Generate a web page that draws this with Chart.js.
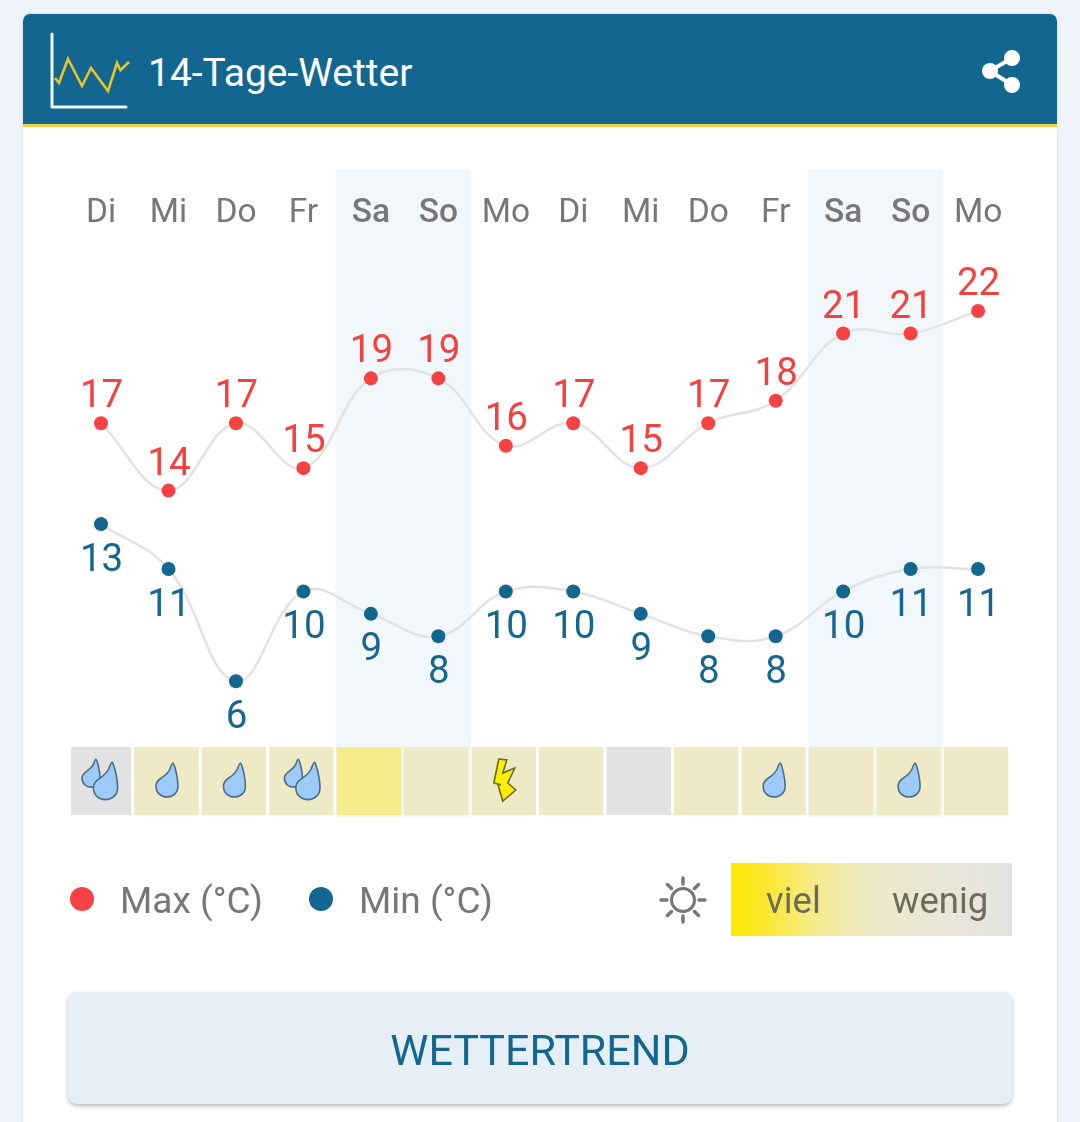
<!DOCTYPE html>
<html lang="de">
<head>
<meta charset="utf-8">
<title>14-Tage-Wetter</title>
<script src="https://cdn.jsdelivr.net/npm/chart.js@4"></script>
<style>
html,body{margin:0;padding:0;width:1080px;height:1122px;overflow:hidden;background:#eff5fa;font-family:Roboto,sans-serif}
#card{position:absolute;left:23px;top:14px;width:1034px;height:1120px;background:#fff;border-radius:7px;box-shadow:0 0 4px rgba(0,0,0,.12)}
#head{position:absolute;left:23px;top:14px;width:1034px;height:110px;background:#12668f;border-radius:7px 7px 0 0;border-bottom:3px solid #efd046}
#title{position:absolute;left:148px;top:50px;font-size:39px;line-height:46px;color:#fff;white-space:nowrap}
svg{position:absolute;left:0;top:0}
canvas{position:absolute;left:0;top:0}
.lg{position:absolute;font-size:37px;line-height:46px;color:#777;white-space:nowrap}
.dot{position:absolute;width:24px;height:24px;border-radius:50%}
#grad{position:absolute;left:731px;top:863px;width:281px;height:73px;background:linear-gradient(90deg,#fde800 0%,#fae838 14%,#f5ea8c 30%,#efeac4 48%,#ebe8d0 62%,#e3e3e3 100%)}
.g{position:absolute;font-size:36.500px;line-height:44px;color:#6c6c58;white-space:nowrap}
#btn{position:absolute;left:68px;top:992px;width:944px;height:112px;background:#e6eff5;border-radius:9px;box-shadow:0 2px 4px rgba(0,0,0,.28);color:#12668f;font-size:43px;line-height:116px;text-align:center;white-space:nowrap}
</style>
</head>
<body>
<div id="card"></div>
<div id="head"></div>
<div id="title">14-Tage-Wetter</div>
<svg width="1080" height="130" fill="none">
<path d="M52 34V107H126" stroke="#eef5f8" stroke-width="3" stroke-linecap="round" stroke-linejoin="round"/>
<path d="M55 78L59 83L68 59L82 86L91 68L108 91L117 63L120.500 70L129 62" stroke="#e8c52a" stroke-width="2.600"/>
<g fill="#fff"><circle cx="1012" cy="58" r="8"/><circle cx="990" cy="71" r="8"/><circle cx="1012" cy="85" r="8"/></g>
<path d="M1012 58L990 71L1012 85" stroke="#fff" stroke-width="4"/>
</svg>
<canvas id="c" width="1080" height="1122"></canvas>
<div class="dot" style="left:70px;top:887px;background:#f64242"></div>
<div class="lg" style="left:120px;top:878px">Max (°C)</div>
<div class="dot" style="left:309px;top:887px;background:#12668f"></div>
<div class="lg" style="left:359px;top:878px">Min (°C)</div>
<svg width="1080" height="1122" style="pointer-events:none" fill="none" stroke="#777" stroke-width="3.500" stroke-linecap="round">
<circle cx="683" cy="900" r="11.500" stroke-width="3"/>
<path d="M683 878V884M683 916V922M661 900H667M699 900H705M667.500 884.500L671.500 888.500M694.500 911.500L698.500 915.500M698.500 884.500L694.500 888.500M671.500 911.500L667.500 915.500"/>
</svg>
<div id="grad"></div>
<div class="g" style="left:766px;top:879px">viel</div>
<div class="g" style="left:892px;top:879px">wenig</div>
<div id="btn">WETTERTREND</div>
<script>
const days = ['Di','Mi','Do','Fr','Sa','So','Mo','Di','Mi','Do','Fr','Sa','So','Mo'];
const maxTemps = [17,14,17,15,19,19,16,17,15,17,18,21,21,22];
const minTemps = [13,11,6,10,9,8,10,10,9,8,8,10,11,11];
const sunshine = ['wenig','mittel','mittel','mittel','viel','mittel','mittel','mittel','wenig','mittel','mittel','mittel','mittel','mittel'];
const weather = ['rain2','rain','rain','rain2','','','bolt','','','','rain','','rain',''];
const weekendDays = ['Sa','So'];

const sunColors = {viel:'#f6ec8e', mittel:'#efeac6', wenig:'#e2e2e2'};
const dropPath = new Path2D('M6 -18C8 -16 11 -2 11 5C11 12 6 16 0 16C-6 16 -11 12 -11 5C-11 -3 -1 -3 3 -12C4 -15 5 -18 6 -18Z');
const boltPts = [[-5,-21],[3,-20],[-1,-7],[11,-12],[4,3],[12,10],[-1,21],[-6,4],[-3,5],[-10,3]];

function drop(ctx,x,y,s){
  ctx.save();ctx.translate(x,y);ctx.scale(s,s);
  ctx.fillStyle='#9ccbfa';ctx.strokeStyle='#4d6c82';ctx.lineWidth=1.6/s;
  ctx.fill(dropPath);ctx.stroke(dropPath);ctx.restore();
}

const weekendBands = {
  id:'weekendBands',
  beforeDraw(chart){
    const {ctx,scales:{x2}}=chart;
    ctx.save();ctx.fillStyle='#f1f7fb';
    days.forEach((d,i)=>{
      if(d==='Sa'){
        const a=x2.getPixelForValue(i-0.5), b=x2.getPixelForValue(i+1.5);
        ctx.fillRect(a+0.5,170,b-a+0.5,647);
      }
    });
    ctx.restore();
  }
};

const overlays = {
  id:'overlays',
  afterDatasetsDraw(chart){
    const {ctx}=chart;
    const cellMeta=chart.getDatasetMeta(2);
    weather.forEach((w,i)=>{
      const el=cellMeta.data[i], cx=el.x, cy=781;
      if(w==='rain') drop(ctx,cx+0.5,cy,1);
      if(w==='rain2'){ drop(ctx,cx-8,cy-7,0.82); drop(ctx,cx+6.500,cy+1,1.1); }
      if(w==='bolt'){
        ctx.save();ctx.translate(cx,cy-1);ctx.beginPath();
        boltPts.forEach((p,k)=>k?ctx.lineTo(p[0],p[1]):ctx.moveTo(p[0],p[1]));
        ctx.closePath();ctx.fillStyle='#ffee00';ctx.strokeStyle='#6b6b22';ctx.lineWidth=1.6;
        ctx.fill();ctx.stroke();ctx.restore();
      }
    });
    ctx.save();
    ctx.font='38.5px Roboto';ctx.textAlign='center';ctx.textBaseline='middle';
    [[0,-25.5,'#f24141'],[1,37,'#17668f']].forEach(([idx,off,col])=>{
      const meta=chart.getDatasetMeta(idx), data=chart.data.datasets[idx].data;
      ctx.fillStyle=col;
      meta.data.forEach((p,i)=>ctx.fillText(String(data[i]),p.x+0.500,p.y+off));
    });
    ctx.restore();
  }
};

new Chart(document.getElementById('c'),{
  data:{
    labels:days,
    datasets:[
      {type:'line',label:'Max (°C)',data:maxTemps,yAxisID:'y',xAxisID:'x',borderColor:'#e2e2e2',borderWidth:2.500,tension:.4,
       pointRadius:7,pointBorderWidth:0,pointBackgroundColor:'#f64242',order:1,clip:false},
      {type:'line',label:'Min (°C)',data:minTemps,yAxisID:'y1',xAxisID:'x',borderColor:'#e2e2e2',borderWidth:2.500,tension:.4,
       pointRadius:7,pointBorderWidth:0,pointBackgroundColor:'#12668f',order:2,clip:false},
      {type:'bar',label:'Sonne',data:sunshine.map((_,i)=>({x:i,y:1})),yAxisID:'yc',xAxisID:'x2',
       backgroundColor:sunshine.map(s=>sunColors[s]),borderWidth:0,grouped:false,barPercentage:10,maxBarThickness:64.5,order:3,
       clip:{left:-3.700,right:5,top:0,bottom:5}}
    ]
  },
  options:{
    responsive:false,animation:false,events:[],
    layout:{padding:{left:67.3,right:68.2,top:170,bottom:305}},
    plugins:{legend:{display:false},tooltip:{enabled:false}},
    scales:{
      x:{type:'category',position:'top',offset:true,
         afterFit(s){s.height=65;},
         grid:{display:false,drawTicks:false},border:{display:false},
         ticks:{autoSkip:false,maxRotation:0,padding:1,
           color:'#777',
           font:c=>({family:'Roboto',size:33.5,weight:weekendDays.includes(days[c.index])?'500':'400'})}},
      x2:{type:'linear',display:false,offset:false,min:-0.47,max:13.53},
      y:{display:false,min:-0.54,max:25.385},
      y1:{display:false,min:-0.05,max:25.88},
      yc:{display:false,min:-0.029,max:8.53}
    }
  },
  plugins:[weekendBands,overlays]
});
</script>
</body>
</html>
